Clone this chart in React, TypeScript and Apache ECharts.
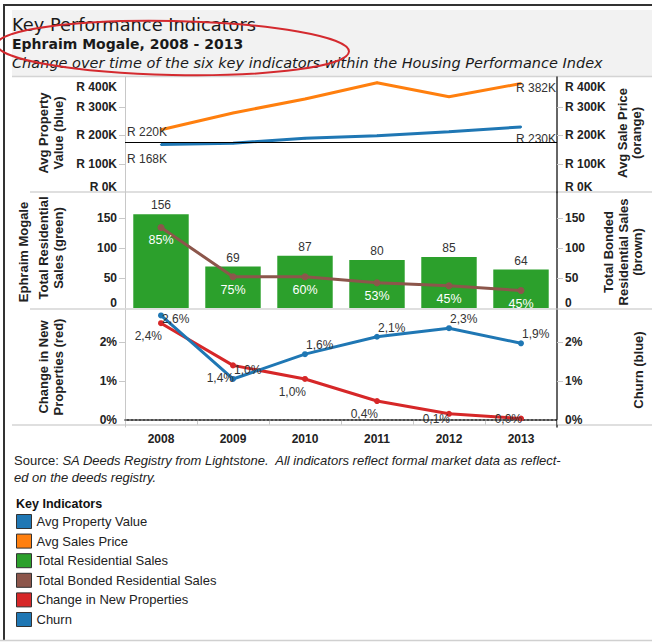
import React, { useEffect, useRef } from "react";
import * as echarts from "echarts";

// ---------- data ----------
const years = ["2008", "2009", "2010", "2011", "2012", "2013"];
const avgPropertyValue = [168000, 173000, 190000, 199000, 213000, 230000];
const avgSalesPrice = [220000, 279000, 328000, 385000, 336000, 382000];
const propertyValueReference = 177000;
const totalResidentialSales = [156, 69, 87, 80, 85, 64];
const totalBondedSales = [134, 52, 52, 42, 37, 29];
const bondedSharePct = [85, 75, 60, 53, 45, 45];
const changeInNewProperties = [2.49, 1.4, 1.05, 0.48, 0.15, 0.03];
const churn = [2.69, 1.05, 1.69, 2.14, 2.36, 1.97];
const priceTicks = [0, 100000, 200000, 300000, 400000];
const salesTicks = [0, 50, 100, 150];
const pctTicks = [0, 1, 2];
const legendNames = [
  "Avg Property Value",
  "Avg Sales Price",
  "Total Residential Sales",
  "Total Bonded Residential Sales",
  "Change in New Properties",
  "Churn",
];

// ---------- style ----------
const FONT = "'Liberation Sans', Arial, sans-serif";
const TITLE_FONT = "'DejaVu Sans', 'Open Sans', sans-serif";
const BLUE = "#1f77b4";
const ORANGE = "#ff7f0e";
const GREEN = "#2ca02c";
const BROWN = "#8c564b";
const RED = "#d62728";
const TXT = "#222";

const fmtK = (v: number) => `R ${Math.round(v / 1000)}K`;
const fmtPct = (v: number) => `${(Math.floor(v * 10 + 1e-9) / 10).toFixed(1).replace(".", ",")}%`;

const tickStyle = { color: TXT, fontWeight: "bold" as const, fontSize: 12, fontFamily: FONT };

function yAxisBase(gridIndex: number, position: "left" | "right", min: number, max: number, ticks: number[], minorTicks: number[], formatter: (v: number) => string, lineColor: string, lineWidth: number) {
  return {
    type: "value",
    gridIndex,
    position,
    min,
    max,
    splitLine: { show: false },
    axisLine: { show: true, lineStyle: { color: lineColor, width: lineWidth } },
    axisTick: { show: true, length: 6, customValues: minorTicks, lineStyle: { color: "#c8c8c8" } },
    axisLabel: {
      show: true,
      customValues: ticks,
      margin: 8,
      formatter,
      ...tickStyle,
      rich: {
        n: { ...tickStyle },
        t: { ...tickStyle, padding: [17, 0, 0, 0] },
        b: { ...tickStyle, padding: [0, 0, 12, 0] },
        b2: { ...tickStyle, padding: [0, 0, 10, 0] },
      },
    },
  };
}

const priceFmt = (v: number) => (v === 400000 ? `{t|${fmtK(v)}}` : v === 0 ? `{b|${fmtK(v)}}` : `{n|${fmtK(v)}}`);
const salesFmt = (v: number) => (v === 0 ? `{b2|0}` : `{n|${v}}`);
const pctFmt = (v: number) => `{n|${Math.round(v)}%}`;

const valueLabel = { fontSize: 12, fontFamily: FONT, color: "#333" };

function vertText(x: number, y: number, text: string, extra: any = {}) {
  return {
    type: "text",
    x,
    y,
    rotation: Math.PI / 2,
    style: {
      text,
      textAlign: "center",
      textVerticalAlign: "middle",
      fontSize: 13,
      fontWeight: "bold",
      fontFamily: FONT,
      lineHeight: 14.5,
      fill: TXT,
      ...extra,
    },
  };
}

function hLine(x1: number, x2: number, y: number, color: string, w = 1) {
  return { type: "line", shape: { x1, y1: y, x2, y2: y }, style: { stroke: color, lineWidth: w }, silent: true };
}

function buildOption() {
  const last = years.length - 1;
  return {
    animation: false,
    backgroundColor: "#fff",
    textStyle: { fontFamily: FONT },
    grid: [
      { left: 125, top: 77, width: 432, height: 115.5 },
      { left: 125, top: 192, width: 432, height: 116 },
      { left: 125, top: 310, width: 432, height: 117 },
    ],
    legend: {
      orient: "vertical",
      left: 16,
      top: 514,
      padding: 0,
      icon: "rect",
      itemWidth: 15,
      itemHeight: 14,
      itemGap: 4.6,
      selectedMode: false,
      data: legendNames,
      itemStyle: { borderColor: "#333", borderWidth: 1 },
      textStyle: { fontSize: 13, color: TXT, fontFamily: FONT },
    },
    xAxis: [
      { type: "category", gridIndex: 0, data: years, show: false },
      { type: "category", gridIndex: 1, data: years, show: false },
      {
        type: "category",
        gridIndex: 2,
        data: years,
        axisLine: { show: true, lineStyle: { color: "#111", width: 1.5 } },
        axisTick: { show: true, length: 5, lineStyle: { color: "#c8c8c8" } },
        axisLabel: { ...tickStyle, margin: 6 },
      },
    ],
    yAxis: [
      yAxisBase(0, "left", 0, 405000, priceTicks, [100000, 200000, 300000], priceFmt, "#c8c8c8", 1),
      yAxisBase(0, "right", 0, 405000, priceTicks, [100000, 200000, 300000], priceFmt, "#333", 1.5),
      yAxisBase(1, "left", 0, 193, salesTicks, [50, 100, 150], salesFmt, "#c8c8c8", 1),
      yAxisBase(1, "right", 0, 193, salesTicks, [50, 100, 150], salesFmt, "#333", 1.5),
      yAxisBase(2, "left", -0.19, 2.83, pctTicks, [1, 2], pctFmt, "#c8c8c8", 1),
      yAxisBase(2, "right", -0.19, 2.83, pctTicks, [1, 2], pctFmt, "#333", 1.5),
    ],
    series: [
      {
        name: "Avg Property Value",
        type: "line",
        xAxisIndex: 0,
        yAxisIndex: 0,
        color: BLUE,
        lineStyle: { width: 3 },
        symbol: "circle",
        symbolSize: 2,
        data: avgPropertyValue.map((v, i) => ({
          value: v,
          label:
            i === 0
              ? { show: true, position: "left", distance: 0, offset: [7, 14], formatter: () => fmtK(v), ...valueLabel }
              : i === last
              ? { show: true, position: "right", distance: 0, offset: [-6, 12], formatter: () => fmtK(v), ...valueLabel }
              : { show: false },
        })),
        markLine: {
          silent: true,
          symbol: "none",
          label: { show: false },
          lineStyle: { color: "#000", width: 1, type: "solid" },
          data: [{ yAxis: propertyValueReference }],
        },
      },
      {
        name: "Avg Sales Price",
        type: "line",
        xAxisIndex: 0,
        yAxisIndex: 1,
        color: ORANGE,
        lineStyle: { width: 3 },
        symbol: "circle",
        symbolSize: 2,
        data: avgSalesPrice.map((v, i) => ({
          value: v,
          label:
            i === 0
              ? { show: true, position: "left", distance: 0, offset: [7, 2], formatter: () => fmtK(v), ...valueLabel }
              : i === last
              ? { show: true, position: "right", distance: 0, offset: [-6, 4], formatter: () => fmtK(v), ...valueLabel }
              : { show: false },
        })),
      },
      {
        name: "Total Residential Sales",
        type: "bar",
        xAxisIndex: 1,
        yAxisIndex: 2,
        color: GREEN,
        barWidth: "77%",
        data: totalResidentialSales,
        label: { show: true, position: "top", distance: 3, ...valueLabel },
      },
      {
        name: "Total Bonded Residential Sales",
        type: "line",
        xAxisIndex: 1,
        yAxisIndex: 3,
        color: BROWN,
        lineStyle: { width: 3 },
        symbol: "circle",
        symbolSize: 7,
        data: totalBondedSales,
        label: {
          show: true,
          position: "bottom",
          distance: 3,
          color: "#fff",
          fontSize: 12.5,
          fontFamily: FONT,
          formatter: (p: any) => `${bondedSharePct[p.dataIndex]}%`,
        },
      },
      {
        name: "Change in New Properties",
        type: "line",
        xAxisIndex: 2,
        yAxisIndex: 4,
        color: RED,
        lineStyle: { width: 3 },
        symbol: "circle",
        symbolSize: 6,
        data: changeInNewProperties.map((v, i) => ({
          value: v,
          label: {
            show: true,
            position: "left",
            distance: 0,
            offset: [4, i === 4 ? 5 : i === 5 ? 1 : 13],
            formatter: () => fmtPct(v),
            ...valueLabel,
          },
        })),
        markLine: {
          silent: true,
          symbol: "none",
          label: { show: false },
          z: 1,
          lineStyle: { color: "#777", width: 2, type: "dotted" },
          data: [{ yAxis: 0 }],
        },
      },
      {
        name: "Churn",
        type: "line",
        xAxisIndex: 2,
        yAxisIndex: 5,
        color: BLUE,
        lineStyle: { width: 3 },
        symbol: "circle",
        symbolSize: 6,
        data: churn.map((v, i) => ({
          value: v,
          label: {
            show: true,
            position: "right",
            distance: 0,
            offset: [-2, i === 0 ? 4 : -9],
            formatter: () => fmtPct(v),
            ...valueLabel,
          },
        })),
      },
    ],
    graphic: {
      elements: [
        { type: "rect", shape: { x: 12, y: 10, width: 640, height: 66 }, style: { fill: "#f2f2f2" }, z: -1, silent: true },
        { type: "line", shape: { x1: 3, y1: 5, x2: 652, y2: 5 }, style: { stroke: "#333", lineWidth: 2 }, silent: true },
        { type: "line", shape: { x1: 4, y1: 5, x2: 4, y2: 641 }, style: { stroke: "#333", lineWidth: 2 }, silent: true },
        hLine(0, 652, 640.5, "#d0d0d0", 1.5),
        hLine(12, 652, 76.5, "#d4d4d4", 1.5),
        hLine(30, 652, 192, "#d4d4d4", 1.5),
        hLine(30, 652, 309, "#d4d4d4", 1.5),
        hLine(12, 652, 425, "#d4d4d4", 1.5),
        {
          type: "text",
          x: 12,
          y: 24,
          style: { text: "Key Performance Indicators", fontSize: 17.8, fontFamily: TITLE_FONT, fill: "#1a1a1a", textVerticalAlign: "middle" },
        },
        {
          type: "text",
          x: 12,
          y: 44,
          style: { text: "Ephraim Mogale, 2008 - 2013", fontSize: 14, fontWeight: "bold", fontFamily: TITLE_FONT, fill: "#1a1a1a", textVerticalAlign: "middle" },
        },
        {
          type: "text",
          x: 12,
          y: 63,
          style: {
            text: "Change over time of the six key indicators within the Housing Performance Index",
            fontSize: 14.5,
            fontStyle: "italic",
            fontFamily: TITLE_FONT,
            fill: "#1a1a1a",
            textVerticalAlign: "middle",
          },
        },
        {
          type: "ellipse",
          x: 173,
          y: 48,
          rotation: -0.02,
          shape: { cx: 0, cy: 0, rx: 176, ry: 27 },
          style: { fill: "none", stroke: "#d42a2f", lineWidth: 2 },
          z: 100,
          silent: true,
        },
        vertText(51, 133, "Avg Property\nValue (blue)"),
        vertText(23, 252, "Ephraim Mogale"),
        vertText(51, 248, "Total Residential\nSales (green)"),
        vertText(51, 367, "Change in New\nProperties (red)"),
        vertText(629.5, 133, "Avg Sale Price\n(orange)"),
        vertText(623, 252, "Total Bonded\nResidential Sales\n(brown)"),
        vertText(638, 370, "Churn (blue)"),
        {
          type: "text",
          x: 14,
          y: 452,
          style: {
            text: "{n|Source: }{i|SA Deeds Registry from Lightstone.  All indicators reflect formal market data as reflect-}\n{i|ed on the deeds registry.}",
            textVerticalAlign: "top",
            fill: TXT,
            fontSize: 13,
            fontFamily: FONT,
            lineHeight: 17,
            rich: {
              n: { fontSize: 13, fontFamily: FONT, fill: TXT, lineHeight: 17 },
              i: { fontSize: 13, fontFamily: FONT, fontStyle: "italic", fill: TXT, lineHeight: 17 },
            },
          },
        },
        {
          type: "text",
          x: 16,
          y: 504,
          style: { text: "Key Indicators", fontSize: 12.5, fontWeight: "bold", fontFamily: FONT, fill: "#111", textVerticalAlign: "middle" },
        },
      ],
    },
  };
}

export default function App() {
  const ref = useRef<HTMLDivElement | null>(null);
  useEffect(() => {
    if (!ref.current) return;
    const chart = echarts.init(ref.current, null, { renderer: "svg" });
    chart.setOption(buildOption() as any);
    return () => chart.dispose();
  }, []);
  return <div ref={ref} style={{ position: "fixed", left: 0, top: 0, width: 652, height: 642, background: "#fff" }} />;
}
